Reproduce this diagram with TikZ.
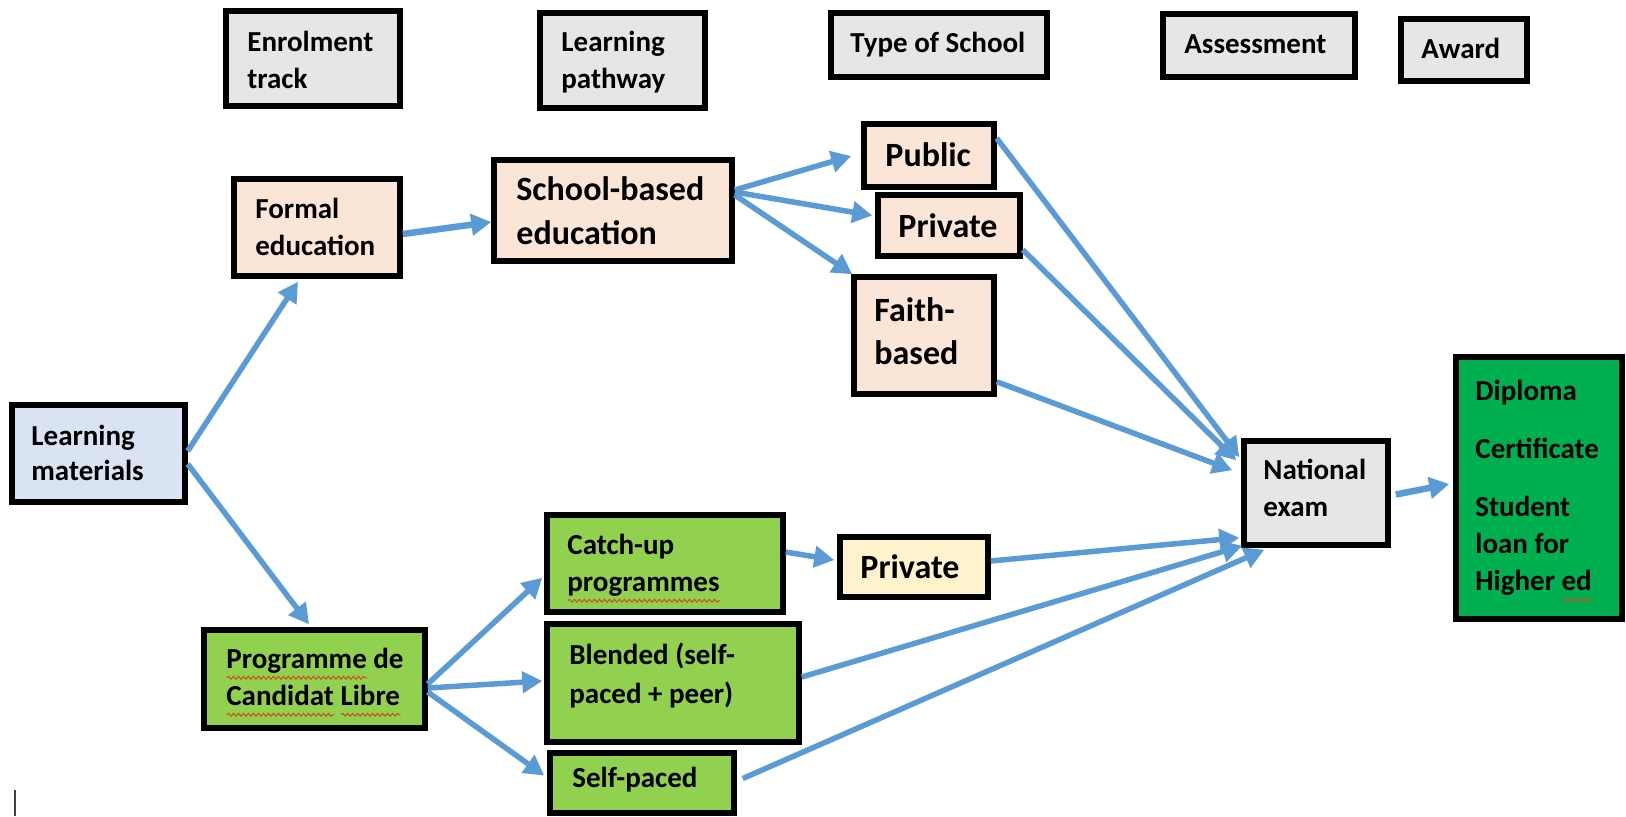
\documentclass[tikz,border=0pt]{standalone}
\usepackage{fontspec}
\setmainfont{Carlito}
\usetikzlibrary{arrows.meta,calc,fit,decorations.pathmorphing}
\definecolor{hdrgray}{HTML}{E7E6E6}
\definecolor{peach}{HTML}{FBE5D6}
\definecolor{paleblue}{HTML}{DAE3F3}
\definecolor{lightgreen}{HTML}{92D050}
\definecolor{darkgreen}{HTML}{00B050}
\definecolor{cream}{HTML}{FFF2CC}
\definecolor{arrowblue}{HTML}{5B9BD5}
\definecolor{squigred}{HTML}{D04A1A}
\newdimen\sqw
\newcommand\sq[1]{\setbox0=\hbox{#1}\sqw=\wd0\rlap{\smash{\raisebox{-4.5pt}{\tikz[x=1pt,y=1pt,baseline=0pt]\draw[squigred,line width=0.5pt,decorate,decoration={snake,amplitude=0.7pt,segment length=2.5pt}] (0,0) -- (\sqw,0);}}}#1}
\begin{document}
\begin{tikzpicture}[x=0.5pt,y=-0.5pt,
  box/.style={draw=black,line width=2.75pt,inner sep=0pt},
  txt/.style={anchor=north west,inner sep=0pt,align=left,font=\fontsize{14.5}{18.5}\selectfont\bfseries},
  bigtxt/.style={anchor=north west,inner sep=0pt,align=left,font=\fontsize{17}{22}\selectfont\bfseries},
  arr/.style={draw=arrowblue,line width=2.75pt,-{Triangle[length=10pt,width=10.5pt]}}]
\useasboundingbox (0,0) rectangle (1626,816);

% header boxes
\node[box,fill=hdrgray,fit={(226,11)(400,106)}] (h1) {};
\node[box,fill=hdrgray,fit={(540,13)(705,108)}] (h2) {};
\node[box,fill=hdrgray,fit={(831,13)(1047,77)}] (h3) {};
\node[box,fill=hdrgray,fit={(1163,14)(1355,77)}] (h4) {};
\node[box,fill=hdrgray,fit={(1401,19)(1527,81)}] (h5) {};
\node[txt] (h1t) at (247,31) {Enrolment\\track};
\node[txt] (h2t) at (561,31) {Learning\\pathway};
\node[txt] (h3t) at (850,32) {Type of School};
\node[txt] (h4t) at (1184,34) {Assessment};
\node[txt] (h5t) at (1421,38) {Award};

% formal track
\node[box,fill=peach,fit={(234,179)(400,276)}] (formal) {};
\node[box,fill=peach,fit={(494,160)(732,261)}] (sb) {};
\node[box,fill=peach,fit={(864,124)(994,187)}] (public) {};
\node[box,fill=peach,fit={(878,195)(1020,256)}] (privA) {};
\node[box,fill=peach,fit={(854,277)(994,394)}] (faith) {};
\node[txt] (formalt) at (255,198) {Formal\\education};
\node[bigtxt] (sbt) at (516,176) {School-based\\education};
\node[bigtxt] (publict) at (885,142) {Public};
\node[bigtxt] (privAt) at (898,213) {Private};
\node[bigtxt,font=\fontsize{17}{21.5}\selectfont\bfseries] (faitht) at (874,297) {Faith-\\based};

% learning materials
\node[box,fill=paleblue,fit={(12,405)(185,502)}] (lm) {};
\node[txt,font=\fontsize{14.5}{17.5}\selectfont\bfseries] (lmt) at (31,425) {Learning\\materials};

% assessment and award
\node[box,fill=hdrgray,fit={(1244,441)(1388,545)}] (nat) {};
\node[txt] (natt) at (1263,459) {National\\exam};
\node[box,fill=darkgreen,fit={(1456,357)(1622,619)}] (dip) {};
\node[txt] (dipt) at (1475,380) {Diploma\\[10.5pt]Certificate\\[10.5pt]Student\\loan for\\Higher \sq{ed}};

% non-formal track
\node[box,fill=lightgreen,fit={(204,630)(425,728)}] (pdcl) {};
\node[txt] (pdclt) at (226,648) {\sq{Programme} de\\\sq{Candidat} \sq{Libre}};
\node[box,fill=lightgreen,fit={(547,515)(783,612)}] (catch) {};
\node[txt] (catcht) at (567,534) {Catch-up\\\sq{programmes}};
\node[box,fill=cream,fit={(840,537)(988,597)}] (privB) {};
\node[bigtxt] (privBt) at (860,554) {Private};
\node[box,fill=lightgreen,fit={(547,624)(799,742)}] (blend) {};
\node[txt,font=\fontsize{14.5}{19.5}\selectfont\bfseries] (blendt) at (569,643) {Blended (self-\\paced + peer)};
\node[box,fill=lightgreen,fit={(550,753)(734,813)}] (self) {};
\node[txt] (selft) at (572,767) {Self-paced};

% connectors
\draw[arr] ($(lm.east)+(0,-2.5)$) -- ($(formal.south)+(-19,3)$);
\draw[arr] ($(lm.east)+(0,10.5)$) -- ($(pdcl.north)+(-5.5,-3)$);
\draw[arr,line width=3.25pt] ($(formal.east)+(0,6.5)$) -- ($(sb.west)+(0,11.5)$);
\draw[arr] ($(sb.east)+(0,-20.5)$) -- ($(public.west)+(-10,0.5)$);
\draw[arr] ($(sb.east)+(0,-18.5)$) -- ($(privA.west)+(-3,-10)$);
\draw[arr] ($(sb.east)+(0,-15.5)$) -- ($(faith.north west)+(1,0)$);
\draw[arr] ($(public.north east)+(0,17)$) -- ($(nat.north west)+(-2,19)$);
\draw[arr] ($(privA.south east)+(0,-9)$) -- ($(nat.north west)+(-5,22)$);
\draw[arr] ($(faith.south east)+(0,-15)$) -- ($(nat.north west)+(-9,32)$);
\draw[arr] ($(catch.east)+(0,-11.5)$) -- ($(privB.west)+(-3,-7)$);
\draw[arr] ($(privB.east)+(0,-6)$) -- ($(nat.south west)+(-2,-10)$);
\draw[arr] ($(blend.east)+(0,-6)$) -- ($(nat.south west)+(1,-2)$);
\draw[arr] ($(self.east)+(6,-4.5)$) -- ($(nat.south west)+(23,2)$);
\draw[arr,line width=3.25pt] ($(nat.east)+(5,1.5)$) -- ($(dip.west)+(-4,-4)$);
\draw[arr] ($(pdcl.east)+(0,5)$) -- ($(catch.south west)+(-2,-37)$);
\draw[arr] ($(pdcl.east)+(0,9)$) -- ($(blend.west)+(-2,-2)$);
\draw[arr] ($(pdcl.east)+(0,13)$) -- ($(self.west)+(-3,-7.5)$);

% text cursor mark
\draw[line width=0.6pt,black!75] (15,790) -- (15,816);
\end{tikzpicture}
\end{document}
